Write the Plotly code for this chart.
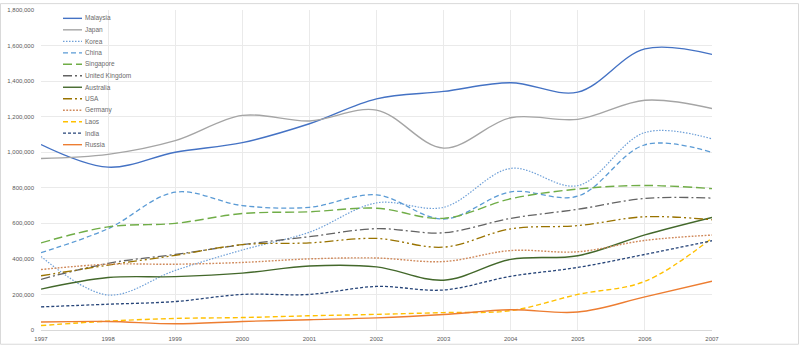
import plotly.graph_objects as go

years = list(range(1997, 2008))

malaysia = [1043, 916, 1000, 1054, 1160, 1300, 1342, 1391, 1338, 1581, 1550]
japan = [965, 988, 1065, 1207, 1176, 1237, 1023, 1194, 1185, 1292, 1246]
korea = [414, 197, 335, 450, 550, 715, 690, 909, 812, 1111, 1075]
china = [435, 570, 775, 700, 690, 760, 624, 777, 753, 1042, 999]
singapore = [490, 580, 600, 655, 665, 685, 628, 738, 793, 813, 795]
uk = [285, 375, 425, 480, 525, 570, 547, 628, 679, 740, 742]
australia = [230, 295, 300, 320, 360, 355, 280, 397, 418, 535, 633]
usa = [305, 365, 420, 480, 490, 515, 466, 569, 587, 637, 620]
germany = [340, 370, 370, 380, 400, 405, 385, 447, 440, 504, 534]
laos = [25, 50, 65, 70, 80, 88, 98, 109, 200, 274, 517]
india = [130, 145, 160, 200, 200, 245, 225, 302, 352, 425, 502]
russia = [45, 48, 35, 48, 58, 68, 87, 114, 101, 186, 274]

y_ticks = list(range(0, 1800001, 200000))

series = [
    ("Malaysia", malaysia, "#4472C4", "solid", 1.4),
    ("Japan", japan, "#A5A5A5", "solid", 1.4),
    ("Korea", korea, "#6FA0D8", "1.5px,1.5px", 1.2),
    ("China", china, "#5B9BD5", "5px,3px", 1.3),
    ("Singapore", singapore, "#70AD47", "9px,4px", 1.4),
    ("United Kingdom", uk, "#636363", "9px,3px,2px,3px", 1.3),
    ("Australia", australia, "#43682B", "solid", 1.4),
    ("USA", usa, "#997300", "9px,3px,2px,3px,2px,3px", 1.3),
    ("Germany", germany, "#D08A5C", "1.8px,1.5px", 1.4),
    ("Laos", laos, "#FFC000", "5px,3px", 1.4),
    ("India", india, "#264478", "3px,2px", 1.3),
    ("Russia", russia, "#ED7D31", "solid", 1.4),
]

fig = go.Figure()
for name, vals, color, dash, width in series:
    fig.add_trace(go.Scatter(
        x=years, y=[v * 1000 for v in vals], name=name, mode="lines",
        line=dict(color=color, dash=dash, width=width, shape="spline", smoothing=1.0),
        showlegend=False,
    ))

# plot-area geometry in pixels (used to place the in-plot legend)
W, H = 800, 349
L, R, T, B = 41, 88, 7, 16
pw, ph = W - L - R, H - T - B

def px_x(p):
    return (p - L) / pw

def px_y(p):
    return (H - B - p) / ph

shapes = []
annotations = []
for i, (name, vals, color, dash, width) in enumerate(series):
    yy = 15.5 + i * 11.7
    shapes.append(dict(type="line", xref="paper", yref="paper",
                       x0=px_x(63), x1=px_x(82), y0=px_y(yy), y1=px_y(yy),
                       line=dict(color=color, dash=dash, width=width)))
    annotations.append(dict(xref="paper", yref="paper", x=px_x(83), y=px_y(yy),
                            text=name, showarrow=False, xanchor="left", yanchor="middle",
                            font=dict(size=6.5, color="#6b6b6b")))

# outer chart border
shapes.append(dict(type="rect", xref="paper", yref="paper",
                   x0=px_x(0.5), x1=px_x(798.5), y0=px_y(347.5), y1=px_y(0.5),
                   line=dict(color="#D9D9D9", width=1), layer="below"))

fig.update_layout(
    width=W, height=H,
    margin=dict(l=L, r=R, t=T, b=B),
    paper_bgcolor="white", plot_bgcolor="white",
    font=dict(family="Liberation Sans, Arial, sans-serif", size=6.5, color="#595959"),
    shapes=shapes, annotations=annotations,
    xaxis=dict(range=[1997, 2007], tickmode="array", tickvals=years,
               ticktext=[str(y) for y in years], showgrid=True, gridcolor="#EAEAEA",
               gridwidth=1, zeroline=False, showline=True, linecolor="#D9D9D9",
               ticks="", ticklabelstandoff=3, tickfont=dict(size=6, color="#595959")),
    yaxis=dict(range=[0, 1800000], tickmode="array", tickvals=y_ticks,
               ticktext=[f"{v:,}" for v in y_ticks], showgrid=True, gridcolor="#EAEAEA",
               gridwidth=1, zeroline=False, showline=False, ticks="",
               ticklabelstandoff=6, tickfont=dict(size=6, color="#595959")),
)

fig.write_html("out.html")
